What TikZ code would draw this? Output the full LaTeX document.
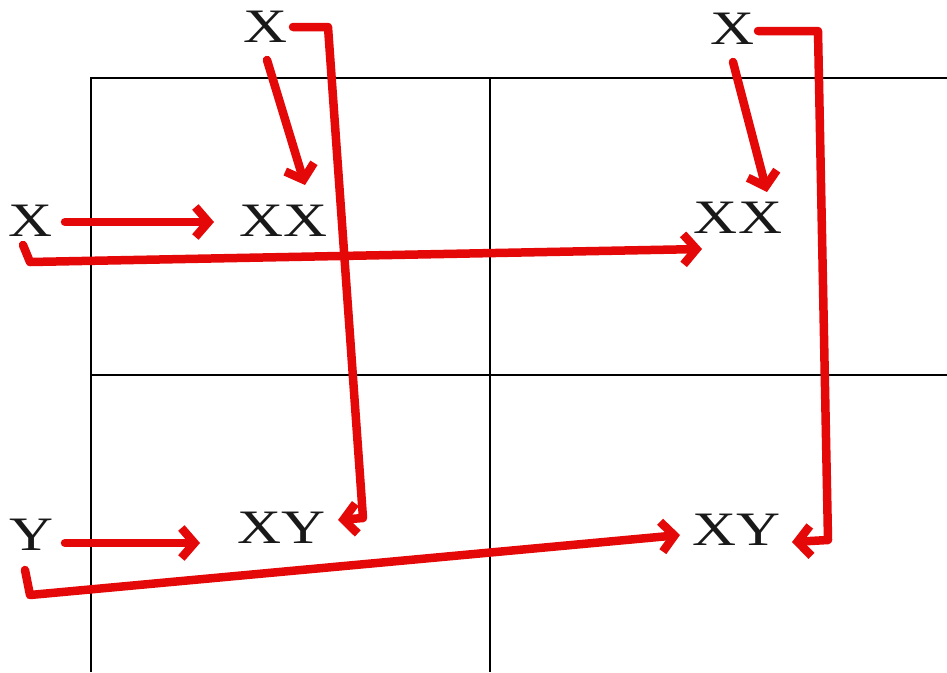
\documentclass[tikz,border=0pt]{standalone}
\usepackage{fontspec}
\setmainfont{Liberation Serif}
\usetikzlibrary{arrows.meta,calc}
\definecolor{pen}{RGB}{228,8,8}
\tikzset{
  lbl/.style={inner sep=0pt, anchor=center, font=\fontsize{48}{50}\selectfont, text=black!90},
  grid/.style={line width=1.3pt, black},
  redarrow/.style={pen, line width=8.5pt, line cap=round, line join=round,
    -{Straight Barb[length=13pt,width=30pt,line width=8.5pt]}}
}
\newcommand{\wide}[1]{\scalebox{1.27}[1]{#1}}
\begin{document}
\begin{tikzpicture}[x=1pt,y=-1pt]
\useasboundingbox (0,0) rectangle (947,672);
\fill[white] (0,0) rectangle (947,672);
% grid
\draw[grid] (91,672) -- (91,78) -- (947,78);
\draw[grid] (490,78) -- (490,672);
\draw[grid] (91,375) -- (947,375);
% labels
\node[lbl] (xt1) at (266,27) {\wide{X}};
\node[lbl] (xt2) at (733,29) {\wide{X}};
\node[lbl] (xl) at (31,221) {\wide{X}};
\node[lbl] (xx1) at (284,221) {\wide{XX}};
\node[lbl] (xx2) at (738,218) {\wide{XX}};
\node[lbl] (yl) at (32,535) {\wide{Y}};
\node[lbl] (xy1) at (282,528) {\wide{XY}};
\node[lbl] (xy2) at (737,530) {\wide{XY}};
% arrows
\draw[redarrow] ($(xt1)+(1,33)$) -- ($(xx1)+(21,-36)$);
\draw[redarrow] ($(xt1)+(27,0)$) -- ($(xt1)+(62,0)$) -- ($(xy1)+(81,-10)$) -- ($(xy1)+(56,-8)$);
\draw[redarrow] ($(xl)+(34,1)$) -- ($(xx1)+(-70,1)$);
\draw[redarrow] ($(xl)+(-8,24)$) -- ($(xl)+(-1,41)$) -- ($(xx2)+(-36,31)$);
\draw[redarrow] ($(xt2)+(0,33)$) -- ($(xx2)+(29,-26)$);
\draw[redarrow] ($(xt2)+(25,2)$) -- ($(xt2)+(85,2)$) -- ($(xy2)+(91,10)$) -- ($(xy2)+(55,12)$);
\draw[redarrow] ($(yl)+(33,8)$) -- ($(xy1)+(-82,15)$);
\draw[redarrow] ($(yl)+(-7,35)$) -- ($(yl)+(-2,60)$) -- ($(xy2)+(-57,5)$);
\end{tikzpicture}
\end{document}
